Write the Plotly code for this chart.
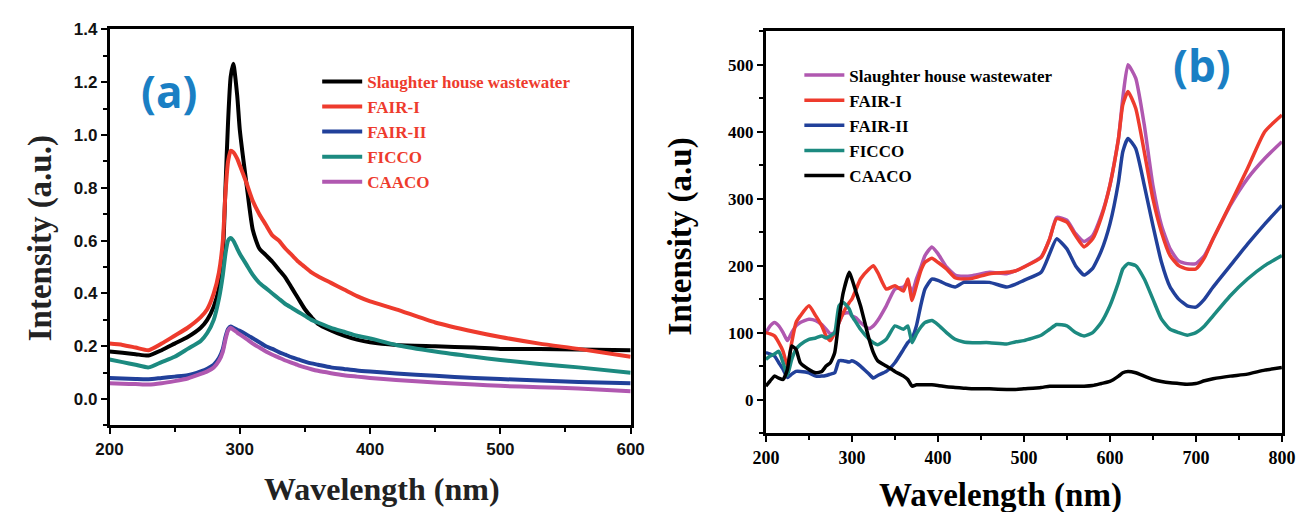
import plotly.graph_objects as go

# ---------------- Panel (a) data ----------------
wl_a = [200, 210, 220, 230, 240, 250, 260, 270, 275, 280, 284, 287, 289, 291, 293, 295, 298,
        300, 305, 310, 315, 320, 325, 330, 335, 340, 345, 350, 355, 360, 370, 380, 390, 400,
        420, 450, 480, 500, 530, 560, 600]
slaughter_a = [0.18, 0.175, 0.17, 0.165, 0.185, 0.21, 0.235, 0.27, 0.3, 0.35, 0.42, 0.55, 0.8, 1.05, 1.22, 1.27, 1.15,
               1.02, 0.82, 0.64, 0.57, 0.545, 0.52, 0.49, 0.46, 0.42, 0.38, 0.34, 0.31, 0.285, 0.26, 0.24, 0.225, 0.215,
               0.205, 0.2, 0.195, 0.19, 0.19, 0.188, 0.185]
fair1_a = [0.21, 0.205, 0.195, 0.185, 0.21, 0.24, 0.27, 0.31, 0.34, 0.4, 0.48, 0.6, 0.78, 0.9, 0.94, 0.935, 0.91,
           0.885, 0.82, 0.75, 0.7, 0.66, 0.62, 0.6, 0.57, 0.545, 0.52, 0.5, 0.48, 0.465, 0.44, 0.415, 0.39, 0.37,
           0.34, 0.29, 0.255, 0.235, 0.21, 0.19, 0.16]
fair2_a = [0.08, 0.078, 0.076, 0.075, 0.08, 0.085, 0.09, 0.105, 0.115, 0.13, 0.155, 0.19, 0.235, 0.265, 0.275, 0.27, 0.262,
           0.258, 0.245, 0.23, 0.215, 0.2, 0.19, 0.178, 0.168, 0.158, 0.15, 0.142, 0.135, 0.13, 0.12, 0.114, 0.108, 0.104,
           0.097, 0.088, 0.08, 0.076, 0.07, 0.065, 0.06]
ficco_a = [0.15, 0.14, 0.13, 0.12, 0.14, 0.16, 0.19, 0.22, 0.25, 0.3, 0.38, 0.47, 0.55, 0.6, 0.61, 0.6, 0.57,
           0.55, 0.51, 0.47, 0.44, 0.42, 0.4, 0.38, 0.36, 0.345, 0.33, 0.315, 0.3, 0.29, 0.27, 0.255, 0.24, 0.23,
           0.205, 0.18, 0.16, 0.148, 0.133, 0.12, 0.1]
caaco_a = [0.06, 0.058, 0.057, 0.055, 0.06, 0.068, 0.078, 0.095, 0.105, 0.12, 0.145, 0.18, 0.225, 0.26, 0.27, 0.263, 0.252,
           0.245, 0.228, 0.21, 0.195, 0.18, 0.168, 0.157, 0.146, 0.137, 0.128, 0.12, 0.113, 0.107, 0.098, 0.09, 0.085, 0.08,
           0.072, 0.063, 0.055, 0.05, 0.045, 0.04, 0.03]

# ---------------- Panel (b) data ----------------
wl_b = [200, 205, 210, 215, 220, 225, 230, 235, 240, 250, 258, 265, 270, 275, 280, 285, 290, 297, 300, 305, 310,
        320, 325, 330, 340, 350, 360, 365, 370, 375, 380, 385, 393, 400, 410, 420, 430, 440, 460, 480, 490, 500,
        520, 530, 538, 550, 560, 570, 580, 590, 600, 610, 615, 621, 630, 640, 650, 660, 670, 680, 690, 700, 710,
        720, 740, 760, 780, 800]
slaughter_b = [100, 110, 115, 110, 100, 88, 100, 110, 115, 120, 118, 112, 105, 98, 100, 115, 128, 130, 125, 122, 115,
               106, 110, 118, 140, 165, 168, 175, 160, 180, 197, 215, 228, 218, 198, 186, 184, 185, 190, 188, 192, 198,
               213, 240, 272, 268, 248, 236, 245, 275, 320, 390, 450, 500, 480, 410, 320, 260, 225, 207, 203, 203, 215,
               240, 290, 330, 360, 385]
fair1_b = [100, 98, 95, 85, 72, 50, 85, 115, 125, 140, 125, 110, 95, 88, 100, 115, 130, 145, 150, 165, 180,
           195, 200, 190, 165, 170, 162, 180, 148, 170, 192, 205, 211, 205, 195, 182, 180, 181, 188, 190, 192, 198,
           212, 240, 270, 265, 245, 228, 240, 272, 320, 390, 440, 460, 435, 370, 300, 250, 215, 200, 195, 195, 212,
           240, 292, 345, 400, 425]
fair2_b = [70, 68, 65, 55, 45, 33, 38, 42, 42, 40, 35, 35, 36, 38, 40, 58, 58, 56, 58, 55, 50,
           38, 32, 36, 42, 55, 75, 85, 92, 110, 140, 165, 180, 178, 172, 168, 175, 175, 175, 168, 172, 178,
           190, 218, 240, 225, 200, 186, 196, 222, 262, 325, 370, 390, 375, 320, 260, 205, 168, 150, 140, 138, 150,
           168, 200, 232, 262, 290]
ficco_b = [60, 65, 68, 72, 55, 36, 60, 75, 82, 90, 92, 95, 92, 95, 100, 140, 145, 135, 125, 115, 105,
           90, 85, 82, 90, 110, 105, 110, 85, 98, 108, 115, 118, 112, 100, 90, 86, 85, 85, 83, 86, 88,
           96, 105, 112, 110, 100, 95, 100, 115, 140, 175, 195, 203, 200, 180, 150, 120, 105, 100, 96, 100, 110,
           125, 155, 180, 200, 215]
caaco_b = [20, 28, 35, 32, 30, 45, 80, 75, 55, 45, 40, 42, 50, 55, 70, 120, 160, 190, 180, 160, 140,
           90, 70, 58, 50, 42, 35, 30, 20, 22, 22, 22, 22, 21, 19, 18, 17, 16, 16, 15, 15, 16,
           18, 20, 20, 20, 20, 20, 21, 24, 27, 35, 40, 42, 40, 35, 30, 27, 25, 24, 23, 24, 28,
           31, 35, 38, 44, 48]

names = ["Slaughter house wastewater", "FAIR-I", "FAIR-II", "FICCO", "CAACO"]

BLACK = "#000000"
RED = "#ee3b2d"
BLUE = "#21409a"
TEAL = "#1c8a80"
PURPLE = "#b058b0"

colors_a = [BLACK, RED, BLUE, TEAL, PURPLE]
colors_b = [PURPLE, RED, BLUE, TEAL, BLACK]
series_a = [slaughter_a, fair1_a, fair2_a, ficco_a, caaco_a]
series_b = [slaughter_b, fair1_b, fair2_b, ficco_b, caaco_b]

fig = go.Figure()

for i, (nm, ys, c) in enumerate(zip(names, series_a, colors_a)):
    fig.add_trace(go.Scatter(x=wl_a, y=ys, mode="lines", name=nm,
                             line=dict(color=c, width=4, shape="spline", smoothing=0.6),
                             xaxis="x", yaxis="y", legend="legend"))

for i, (nm, ys, c) in enumerate(zip(names, series_b, colors_b)):
    fig.add_trace(go.Scatter(x=wl_b, y=ys, mode="lines", name=nm,
                             line=dict(color=c, width=3.5, shape="spline", smoothing=0.5),
                             xaxis="x2", yaxis="y2", legend="legend2"))

SERIF = "Liberation Serif"
SANS = "Liberation Sans"

axis_common = dict(showline=True, linecolor="black", mirror=True, showgrid=False,
                   zeroline=False, ticks="outside", tickcolor="black", ticklen=6, tickwidth=2)

fig.update_layout(
    width=1310, height=512,
    margin=dict(l=0, r=0, t=0, b=0),
    paper_bgcolor="white", plot_bgcolor="white",
    xaxis=dict(domain=[0.0745, 0.481], range=[200, 600], dtick=100, linewidth=2.5,
               minor=dict(dtick=50, ticks="outside", ticklen=4, tickcolor="black", tickwidth=2),
               tickfont=dict(family=SANS, size=17, color="#111", weight="bold"), anchor="y", **axis_common),
    yaxis=dict(domain=[0.172, 0.9596], range=[-0.1, 1.4], dtick=0.2, tick0=0, tickformat=".1f",
               linewidth=2.5,
               minor=dict(dtick=0.1, ticks="outside", ticklen=4, tickcolor="black", tickwidth=2),
               tickfont=dict(family=SANS, size=17, color="#111", weight="bold"), anchor="x", **axis_common),
    xaxis2=dict(domain=[0.5865, 0.989], range=[200, 800], dtick=100, linewidth=3,
                minor=dict(dtick=50, ticks="outside", ticklen=4, tickcolor="black", tickwidth=2),
                tickfont=dict(family=SERIF, size=18, color="black", weight="bold"), anchor="y2", **axis_common),
    yaxis2=dict(domain=[0.157, 0.9557], range=[-50, 550], dtick=100, tick0=0, linewidth=3,
                minor=dict(dtick=50, ticks="outside", ticklen=4, tickcolor="black", tickwidth=2),
                tickfont=dict(family=SERIF, size=17, color="black", weight="bold"), anchor="x2", **axis_common),
    legend=dict(x=0.2365, y=0.891, xanchor="left", yanchor="top", bgcolor="rgba(0,0,0,0)",
                font=dict(family=SERIF, size=17, color=RED, weight="bold"),
                traceorder="normal", itemwidth=40),
    legend2=dict(x=0.6126, y=0.9035, xanchor="left", yanchor="top", bgcolor="rgba(0,0,0,0)",
                 font=dict(family=SERIF, size=17, color="black", weight="bold"),
                 traceorder="normal", itemwidth=40),
    showlegend=True,
)

annotations = [
    dict(text="Intensity (a.u.)", x=28 / 1310, y=1 - 233 / 512, xref="paper", yref="paper", textangle=-90,
         xanchor="center", yanchor="middle",
         showarrow=False, font=dict(family=SERIF, size=33, color="#222", weight="bold")),
    dict(text="Wavelength (nm)", x=376 / 1310, y=1 - 489 / 512, xref="paper", yref="paper",
         xanchor="center", yanchor="middle",
         showarrow=False, font=dict(family=SERIF, size=32, color="#222", weight="bold")),
    dict(text="Intensity (a.u)", x=681 / 1310, y=1 - 231 / 512, xref="paper", yref="paper", textangle=-90,
         xanchor="center", yanchor="middle",
         showarrow=False, font=dict(family=SERIF, size=33, color="black", weight="bold")),
    dict(text="Wavelength (nm)", x=1008 / 1310, y=1 - 495 / 512, xref="paper", yref="paper",
         xanchor="center", yanchor="middle",
         showarrow=False, font=dict(family=SERIF, size=33, color="black", weight="bold")),
    dict(text="(a)", x=158 / 1310, y=1 - 83 / 512, xref="paper", yref="paper",
         xanchor="center", yanchor="middle",
         showarrow=False, font=dict(family="Open Sans", size=44, color="#1a7fc4", weight="bold")),
    dict(text="(b)", x=1214 / 1310, y=1 - 57 / 512, xref="paper", yref="paper",
         xanchor="center", yanchor="middle",
         showarrow=False, font=dict(family="Open Sans", size=44, color="#1a7fc4", weight="bold")),
]
fig.update_layout(annotations=annotations)

fig.write_html("out.html")
